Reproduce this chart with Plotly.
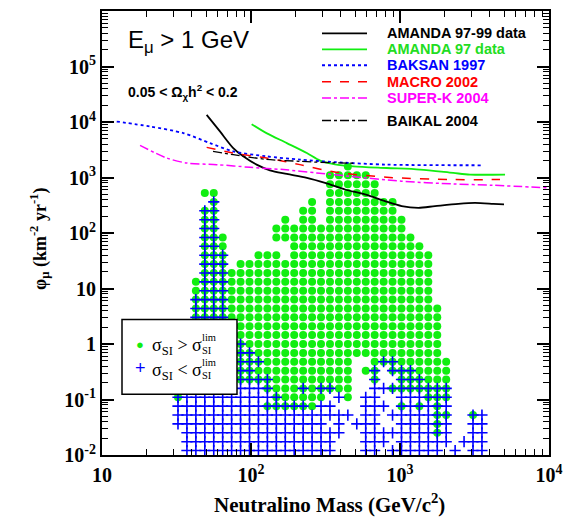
import re
import numpy as np
import plotly.graph_objects as go

# ---- experimental upper limits on the muon flux (km^-2 yr^-1) vs neutralino mass (GeV) ----
amanda9799_mass = [50.4, 61.9, 76.0, 88.7, 109, 134, 174, 237, 314, 428, 582, 793, 1026, 1327, 1717, 2462, 3184, 4227, 4990]
amanda9799_flux = [13460, 6761, 3389, 2405, 1706, 1349, 1158, 982, 798, 608, 495, 375, 305, 284, 305, 336, 349, 336, 327]

amanda97_mass = [101, 127, 174, 237, 291, 366, 486, 815, 1362, 2279, 2951, 5070]
amanda97_flux = [9140, 6300, 4165, 2755, 2014, 1729, 1592, 1483, 1389, 1208, 1130, 1130]

baksan_mass = [12.55, 21.0, 35.2, 53.1, 76.0, 127, 213, 357, 815, 3500]
baksan_flux = [10200, 8300, 6300, 4165, 2958, 2405, 2099, 1901, 1706, 1660]

macro_mass = [50.4, 76.0, 127, 213, 357, 815, 2279, 4690]
macro_flux = [3490, 2755, 2244, 1706, 1268, 1009, 918, 918]

superk_mass = [18.0, 27.2, 37.0, 58.9, 98.4, 165, 276, 461, 1026, 2279, 4120, 10000]
superk_flux = [3785, 2244, 1825, 1706, 1527, 1389, 1208, 1052, 857, 766, 726, 650]

baikal_mass = [55.6, 76.0, 127, 213, 357, 499]
baikal_flux = [2958, 2577, 2125, 1955, 1840, 1803]

# ---- model scan on a 50 x 50 logarithmic grid ----
# mass bins span 10 .. 10^4 GeV, flux bins span 10^-2 .. 10^6 km^-2 yr^-1
# each row (flux bin) lists runs of mass-bin columns:
#   o : sigma_SI > sigma_lim,  + : sigma_SI < sigma_lim,  * : both
scan_rows = {
    32: "27o",
    31: "25-29o",
    30: "25-30o",
    29: "11-12o 25-30o",
    28: "12* 23o 25-32o",
    27: "11-12* 22-23o 25-32o",
    26: "11-12* 20o 22-23o 25-33o",
    25: "11-12* 19-33o",
    24: "11-12* 13o 19-34o",
    23: "11-12* 13o 21-35o",
    22: "11-13* 17-19o 21-36o",
    21: "11-13* 15-36o",
    20: "11-13* 14-36o",
    19: "10o 11-13* 14-36o",
    18: "10o 11-13* 14-36o",
    17: "10-13* 14-36o",
    16: "10-13* 14-37o",
    15: "10-13* 14-37o",
    14: "15-37o",
    13: "15-37o",
    12: "15* 16-37o",
    11: "15-16* 17-37o",
    10: "15-17* 18-27o 30o 31-32* 33-38o",
    9: "15-16* 17-27o 29o 30* 32-34* 35-38o",
    8: "15-18* 19-27o 30* 33-35* 36-38o",
    7: "15-17+ 18* 19-21o 22* 23o 24-25* 26-27o 30-31+ 32-38*",
    6: "8* 9-18+ 19* 20-24o 26+ 27o 29-30+ 33-35+ 36-38*",
    5: "8-17+ 18-22* 23o 24-25+ 29-31+ 33* 34+ 35* 36+ 37* 38+",
    4: "8-24+ 25-27+ 29-30+ 32-36+ 37-38* 41* 42+",
    3: "8-24+ 26+ 28-30+ 33-36+ 37* 38+ 41-42+",
    2: "9-26+ 29-36+ 37* 38+ 41-42+",
    1: "9-25+ 29-31+ 33-38+ 40-42+",
    0: "9-25+ 29-30+ 32-37+ 39+ 41-42+",
}

N_BINS = 50
mass_edges = np.logspace(1, 4, N_BINS + 1)
flux_edges = np.logspace(-2, 6, N_BINS + 1)
mass_centers = np.sqrt(mass_edges[:-1] * mass_edges[1:])
flux_centers = np.sqrt(flux_edges[:-1] * flux_edges[1:])

above_m, above_f, below_m, below_f = [], [], [], []
for row, spec in scan_rows.items():
    for tok in spec.split():
        a, b, kind = re.fullmatch(r"(\d+)(?:-(\d+))?([o+*])", tok).groups()
        lo = int(a)
        hi = int(b) if b else lo
        for col in range(lo, hi + 1):
            if kind in "o*":
                above_m.append(mass_centers[col])
                above_f.append(flux_centers[row])
            if kind in "+*":
                below_m.append(mass_centers[col])
                below_f.append(flux_centers[row])

GREEN = "#11ee11"
BLUE = "#0000ff"

fig = go.Figure()

fig.add_trace(go.Scatter(
    x=above_m, y=above_f, mode="markers", name="sigma_SI above limit",
    marker=dict(symbol="circle", size=8, color=GREEN, line=dict(width=0)),
    showlegend=False,
))
fig.add_trace(go.Scatter(
    x=below_m, y=below_f, mode="markers", name="sigma_SI below limit",
    marker=dict(symbol="cross-thin", size=8, color=BLUE, line=dict(width=1.6, color=BLUE)),
    showlegend=False,
))

limit_curves = [
    ("AMANDA 97-99 data", amanda9799_mass, amanda9799_flux, "black", "solid", 1.8, "black"),
    ("AMANDA 97 data", amanda97_mass, amanda97_flux, GREEN, "solid", 1.8, "#22dd22"),
    ("BAKSAN 1997", baksan_mass, baksan_flux, BLUE, "dot", 1.8, BLUE),
    ("MACRO 2002", macro_mass, macro_flux, "#ff0000", "dash", 1.5, "#ff0000"),
    ("SUPER-K 2004", superk_mass, superk_flux, "#ff00ff", "dashdot", 1.5, "#ff00ff"),
    ("BAIKAL 2004", baikal_mass, baikal_flux, "black", "dashdot", 1.3, "black"),
]
for name, m, f, col, dash, w, _ in limit_curves:
    fig.add_trace(go.Scatter(
        x=m, y=f, mode="lines", name=name, showlegend=False,
        line=dict(color=col, dash=dash, width=w, shape="spline", smoothing=0.8),
    ))

# plot-frame pixel geometry used for placing the decorations
L, R, T, B = 102, 549, 9, 455
def px(xp):
    return (xp - L) / (R - L)
def py(yp):
    return 1 - (yp - T) / (B - T)

annotations = []
shapes = []

def note(text, x, y, size, color="black", family="Liberation Sans", weight="normal",
         xanchor="left", angle=0):
    annotations.append(dict(text=text, xref="paper", yref="paper", x=px(x), y=py(y),
                            xanchor=xanchor, yanchor="middle", showarrow=False, textangle=angle,
                            borderpad=0,
                            font=dict(family=family, size=size, color=color, weight=weight)))

# legend of the limit curves (top right)
legend_rows = [31.5, 47.5, 63.5, 80.0, 96.5, 119.0]
for (name, _, _, col, dash, w, tcol), yrow in zip(limit_curves, legend_rows):
    shapes.append(dict(type="line", xref="paper", yref="paper",
                       x0=px(322), x1=px(367), y0=py(yrow), y1=py(yrow),
                       line=dict(color=col, dash=dash, width=w)))
    note(name, 386, yrow, 14.5, color=tcol, weight="bold")

# legend of the scan points (boxed, lower left)
shapes.append(dict(type="rect", xref="paper", yref="paper",
                   x0=px(122), x1=px(237), y0=py(319), y1=py(394),
                   fillcolor="white", line=dict(color="black", width=1.5), layer="above"))
note("●", 140, 344, 13, color=GREEN, xanchor="center")
note("+", 140, 368, 18, color=BLUE, xanchor="center")
for yc, rel in ((346, ">"), (371, "<")):
    note("σ<sub>SI</sub> " + rel + " σ", 151, yc, 18, family="Liberation Serif")
    note("SI", 201, yc + 4, 10.5, family="Liberation Serif")
    note("lim", 201, yc - 9, 10.5, family="Liberation Serif")

note("E<sub>μ</sub> > 1 GeV", 127, 40, 24)
note("0.05 < Ω<sub>χ</sub>h<sup>2</sup> < 0.2", 127, 90, 14, weight="bold")
note("Neutralino Mass (GeV/c<sup>2</sup>)", 329, 504, 21, family="Liberation Serif",
     weight="bold", xanchor="center")
note("φ<sub>μ</sub> (km<sup>-2</sup> yr<sup>-1</sup>)", 40, 238, 18, family="Liberation Serif",
     weight="bold", xanchor="center", angle=-90)

def minor_log(lo, hi):
    return [k * 10.0 ** e for e in range(lo, hi) for k in range(2, 10)]

axis_common = dict(
    type="log", showgrid=False, zeroline=False, showline=True, linewidth=2, linecolor="black",
    mirror="allticks", ticks="inside", ticklen=12, tickwidth=1.5, tickcolor="black",
    tickfont=dict(family="Liberation Serif", size=20, color="black", weight="bold"),
)

fig.update_layout(
    width=577, height=521,
    margin=dict(l=L, r=577 - R, t=T, b=521 - B),
    paper_bgcolor="white", plot_bgcolor="white",
    showlegend=False,
    xaxis=dict(**axis_common, range=[1, 4],
               tickvals=[10, 100, 1000, 10000],
               ticktext=["10", "10<sup>2</sup>", "10<sup>3</sup>", "10<sup>4</sup>"],
               ticklabelstandoff=1,
               minor=dict(tickvals=minor_log(1, 4), ticks="inside", ticklen=6, tickwidth=1,
                          tickcolor="black", showgrid=False)),
    yaxis=dict(**axis_common, range=[-2, 6],
               tickvals=[1e-2, 1e-1, 1, 10, 1e2, 1e3, 1e4, 1e5],
               ticktext=["10<sup>-2</sup>", "10<sup>-1</sup>", "1", "10", "10<sup>2</sup>",
                         "10<sup>3</sup>", "10<sup>4</sup>", "10<sup>5</sup>"],
               ticklabelstandoff=0,
               minor=dict(tickvals=minor_log(-2, 6), ticks="inside", ticklen=6, tickwidth=1,
                          tickcolor="black", showgrid=False)),
    annotations=annotations,
    shapes=shapes,
)

fig.write_html("out.html")
